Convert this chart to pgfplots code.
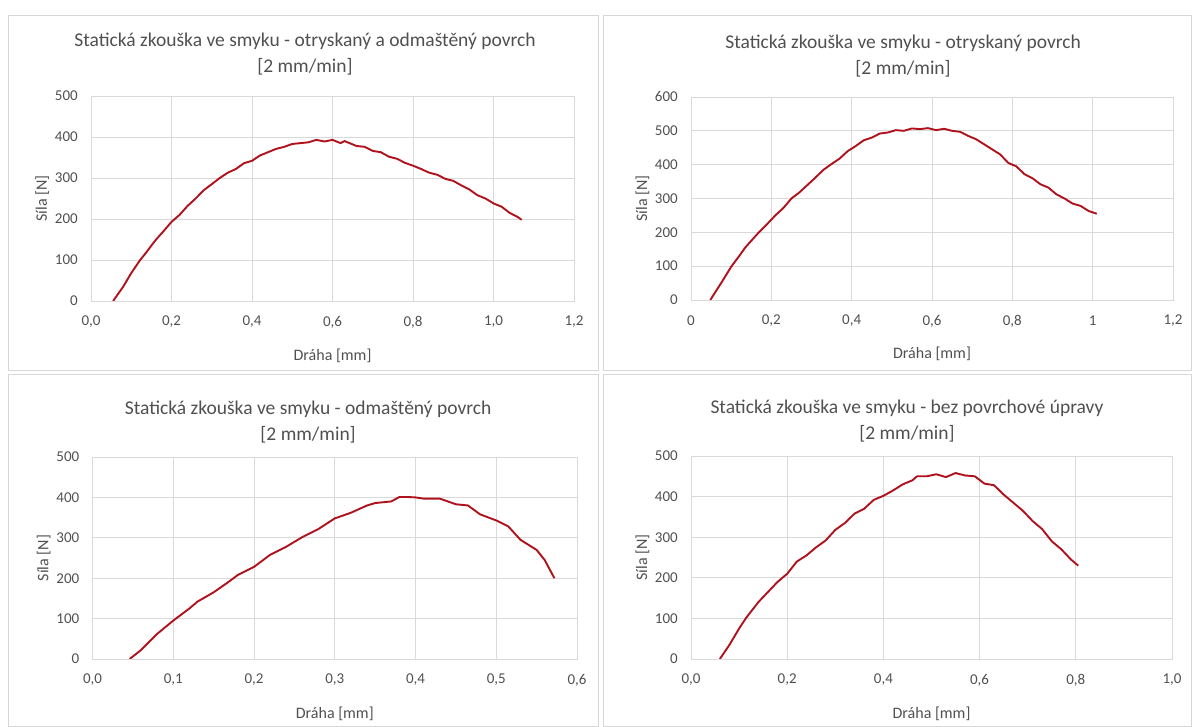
\documentclass[border=0pt]{standalone}
\usepackage{pgfplots}
\pgfplotsset{compat=1.18}
\usepackage{fontspec}
\setmainfont{Carlito}
\definecolor{gridc}{RGB}{217,217,217}
\definecolor{txt}{RGB}{80,80,80}
\definecolor{curvec}{RGB}{175,18,28}
\definecolor{framec}{RGB}{215,215,215}

\pgfplotsset{panel/.style={
  scale only axis,
  xmin=0, ymin=0,
  grid=major, major grid style={gridc, line width=0.8pt},
  axis line style={gridc, line width=0.8pt},
  major tick length=0pt, tick style={draw=none},
  ticklabel style={font=\fontsize{15}{15}\selectfont, text=txt},
  /pgf/number format/assume math mode=true,
  xticklabel style={anchor=center, yshift=-21pt},
  yticklabel style={anchor=east, inner sep=0pt, xshift=-13pt},
  xlabel={Dráha [mm]}, ylabel={Síla [N]},
  label style={font=\fontsize{16}{16}\selectfont, text=txt},
  xlabel style={at={(rel axis cs:0.5,-0.265)}, anchor=center},
  ylabel style={at={(rel axis cs:-0.101,0.5)}, anchor=center},
  title style={font=\fontsize{19.5}{26}\selectfont, text=txt, align=center, anchor=center},
}, redline/.style={draw=curvec, line width=1.9pt, mark=none, line join=round}}

\pgfplotstableread{
x y
0.055 0
0.08 35
0.10 68
0.12 97
0.14 122
0.16 148
0.18 170
0.20 193
0.22 210
0.24 232
0.26 250
0.28 270
0.30 285
0.32 300
0.34 313
0.36 322
0.38 336
0.40 342
0.42 355
0.44 363
0.46 371
0.48 376
0.50 383
0.52 385
0.54 387
0.56 393
0.58 389
0.60 393
0.62 385
0.63 390
0.66 378
0.68 376
0.70 366
0.72 363
0.74 352
0.76 347
0.78 337
0.80 330
0.82 322
0.84 313
0.86 308
0.88 298
0.90 293
0.92 282
0.94 272
0.96 258
0.98 250
1.00 238
1.02 230
1.04 215
1.06 205
1.07 198
}\dataA

\pgfplotstableread{
x y
0.048 0
0.075 50
0.101 100
0.120 130
0.135 155
0.150 175
0.169 200
0.19 225
0.21 250
0.23 272
0.25 300
0.27 318
0.29 340
0.31 362
0.33 385
0.35 402
0.37 418
0.39 440
0.41 455
0.43 472
0.45 480
0.47 492
0.49 495
0.51 502
0.53 500
0.55 507
0.57 505
0.59 508
0.61 502
0.63 506
0.65 500
0.67 497
0.69 485
0.71 475
0.73 460
0.75 445
0.77 430
0.79 405
0.81 395
0.83 372
0.85 360
0.87 342
0.89 332
0.91 312
0.93 300
0.95 285
0.97 278
0.99 263
1.01 255
}\dataB

\pgfplotstableread{
x y
0.046 0
0.06 22
0.08 62
0.10 95
0.12 125
0.13 142
0.15 165
0.17 193
0.18 208
0.20 228
0.22 258
0.24 278
0.26 302
0.28 322
0.30 348
0.32 362
0.34 380
0.35 386
0.37 390
0.38 401
0.39 401
0.40 400
0.41 397
0.43 397
0.45 383
0.465 380
0.48 358
0.50 343
0.515 328
0.53 295
0.55 270
0.56 245
0.572 200
}\dataC

\pgfplotstableread{
x y
0.060 0
0.08 35
0.10 75
0.115 102
0.14 140
0.16 165
0.18 190
0.20 210
0.22 240
0.24 255
0.26 275
0.28 292
0.30 318
0.32 335
0.34 358
0.36 370
0.38 392
0.40 402
0.42 415
0.44 430
0.46 440
0.47 450
0.49 450
0.51 455
0.53 448
0.55 458
0.57 452
0.59 450
0.61 432
0.63 428
0.65 405
0.67 385
0.69 365
0.71 340
0.73 320
0.75 290
0.77 270
0.79 245
0.805 230
}\dataD

\begin{document}
\begin{tikzpicture}[x=1pt,y=1pt]
\useasboundingbox (0,0) rectangle (1192,727);
\draw[framec, line width=0.9pt] (8,357) rectangle (598,712);
\draw[framec, line width=0.9pt] (603,357) rectangle (1191.5,712);
\draw[framec, line width=0.9pt] (8,0.5) rectangle (598,353);
\draw[framec, line width=0.9pt] (603,0.5) rectangle (1191.5,353);

\begin{axis}[panel, at={(91pt,426pt)}, anchor=south west,
  width=483pt, height=205pt,
  xmax=1.2, ymax=500,
  xtick={0,0.2,0.4,0.6,0.8,1.0,1.2},
  xticklabels={{0,0},{0,2},{0,4},{0,6},{0,8},{1,0},{1,2}},
  ytick={0,100,200,300,400,500},
  title={Statická zkouška ve smyku - otryskaný a odmaštěný povrch\\{[2 mm/min]}},
  title style={at={(rel axis cs:0.443,1.173)}}]
\addplot[redline] table[x=x,y=y] {\dataA};
\end{axis}

\begin{axis}[panel, at={(691pt,427pt)}, anchor=south west,
  width=482pt, height=203pt,
  xmax=1.2, ymax=600,
  xtick={0,0.2,0.4,0.6,0.8,1.0,1.2},
  xticklabels={{0},{0,2},{0,4},{0,6},{0,8},{1},{1,2}},
  ytick={0,100,200,300,400,500,600},
  title={Statická zkouška ve smyku - otryskaný povrch\\{[2 mm/min]}},
  title style={at={(rel axis cs:0.44,1.173)}}]
\addplot[redline] table[x=x,y=y] {\dataB};
\end{axis}

\begin{axis}[panel, at={(92.5pt,68pt)}, anchor=south west,
  width=484.5pt, height=202pt,
  xmax=0.6, ymax=500,
  xtick={0,0.1,0.2,0.3,0.4,0.5,0.6},
  xticklabels={{0,0},{0,1},{0,2},{0,3},{0,4},{0,5},{0,6}},
  ytick={0,100,200,300,400,500},
  title={Statická zkouška ve smyku - odmaštěný povrch\\{[2 mm/min]}},
  title style={at={(rel axis cs:0.445,1.143)}},
  xlabel style={at={(rel axis cs:0.5,-0.27)}}]
\addplot[redline] table[x=x,y=y] {\dataC};
\end{axis}

\begin{axis}[panel, at={(691pt,68pt)}, anchor=south west,
  width=481pt, height=203pt,
  xmax=1.0, ymax=500,
  xtick={0,0.2,0.4,0.6,0.8,1.0},
  xticklabels={{0,0},{0,2},{0,4},{0,6},{0,8},{1,0}},
  ytick={0,100,200,300,400,500},
  title={Statická zkouška ve smyku - bez povrchové úpravy\\{[2 mm/min]}},
  title style={at={(rel axis cs:0.449,1.143)}},
  xlabel style={at={(rel axis cs:0.5,-0.27)}}]
\addplot[redline] table[x=x,y=y] {\dataD};
\end{axis}
\end{tikzpicture}
\end{document}
